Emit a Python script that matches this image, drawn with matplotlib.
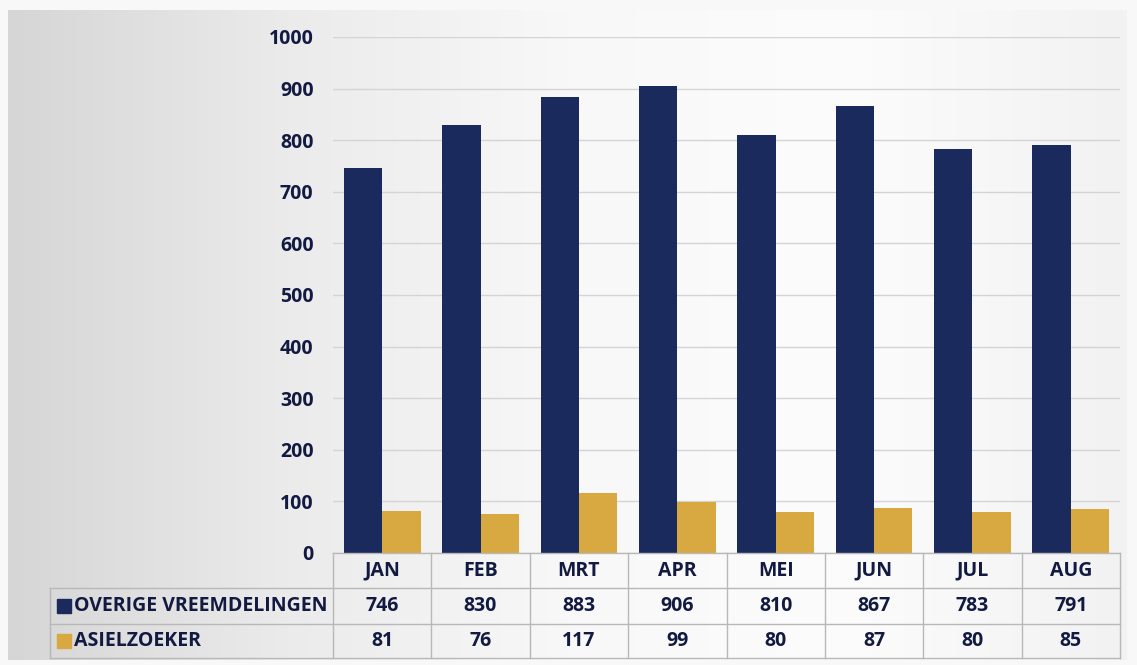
import numpy as np
import matplotlib
matplotlib.use("Agg")
import matplotlib.pyplot as plt
from matplotlib.patches import Rectangle

maanden = ["JAN", "FEB", "MRT", "APR", "MEI", "JUN", "JUL", "AUG"]
overige = [746, 830, 883, 906, 810, 867, 783, 791]
asiel = [81, 76, 117, 99, 80, 87, 80, 85]
reeksen = ["OVERIGE VREEMDELINGEN", "ASIELZOEKER"]
yticks = [0, 100, 200, 300, 400, 500, 600, 700, 800, 900, 1000]

NAVY = "#1b2a5c"
GOLD = "#d8a940"
TXT = "#121a42"
LIJN = "#b8b8b8"
FS = 14

plt.rcParams["font.family"] = ["Open Sans", "DejaVu Sans"]
plt.rcParams["font.weight"] = "bold"

W, H = 1137, 665
fig = plt.figure(figsize=(W / 100, H / 100), dpi=100)
fig.patch.set_facecolor("#f8f8f8")

# achtergrond met verloop (grijs links, wit rechts)
bg = fig.add_axes([8 / W, 1 - 660 / H, (1127 - 8) / W, (660 - 10) / H])
grad = np.linspace(0, 1, 256).reshape(1, -1)
cm = matplotlib.colors.LinearSegmentedColormap.from_list(
    "bg", ["#d6d6d6", "#ebebeb", "#f8f8f8", "#fcfcfc", "#f2f2f2"])
bg.imshow(grad, aspect="auto", cmap=cm, extent=[0, 1, 0, 1])
bg.axis("off")

# plot gebied
x0, x1 = 333, 1120
y0, y1 = 553, 37
ax = fig.add_axes([x0 / W, 1 - y0 / H, (x1 - x0) / W, (y0 - y1) / H])
ax.patch.set_alpha(0)
x = np.arange(len(maanden))
bw = 0.39
ax.bar(x - bw / 2, overige, bw, color=NAVY, zorder=3)
ax.bar(x + bw / 2, asiel, bw, color=GOLD, zorder=3)
ax.set_xlim(-0.5, len(maanden) - 0.5)
ax.set_ylim(0, 1000)
ax.set_yticks(yticks)
ax.set_yticklabels([str(t) for t in yticks], fontsize=FS, color=TXT, fontweight="bold")
ax.set_xticks([])
ax.tick_params(axis="y", length=0, pad=14)
ax.grid(axis="y", color="#d4d4d4", linewidth=1, zorder=0)
for s in ax.spines.values():
    s.set_visible(False)

# tabel onder de grafiek
tab = fig.add_axes([0, 0, 1, 1])
tab.set_xlim(0, W)
tab.set_ylim(H, 0)
tab.axis("off")
tab.patch.set_alpha(0)

cw = (x1 - x0) / len(maanden)
kol = [x0 + i * cw for i in range(len(maanden) + 1)]
rij = [553, 588, 624, 658]
links = 50

tab.plot([x0, x1], [rij[0], rij[0]], color=LIJN, lw=1)
for r in rij[1:]:
    tab.plot([links, x1], [r, r], color=LIJN, lw=1)
for k in kol:
    tab.plot([k, k], [rij[0], rij[-1]], color=LIJN, lw=1)
tab.plot([links, links], [rij[1], rij[-1]], color=LIJN, lw=1)

for i, m in enumerate(maanden):
    cx = (kol[i] + kol[i + 1]) / 2
    tab.text(cx, (rij[0] + rij[1]) / 2, m, ha="center", va="center",
             fontsize=FS, color=TXT, fontweight="bold")
    tab.text(cx, (rij[1] + rij[2]) / 2, str(overige[i]), ha="center", va="center",
             fontsize=FS, color=TXT, fontweight="bold")
    tab.text(cx, (rij[2] + rij[3]) / 2, str(asiel[i]), ha="center", va="center",
             fontsize=FS, color=TXT, fontweight="bold")

for j, (naam, kleur) in enumerate(zip(reeksen, [NAVY, GOLD])):
    cy = (rij[j + 1] + rij[j + 2]) / 2
    tab.add_patch(Rectangle((57, cy - 7), 14, 14, color=kleur))
    tab.text(74, cy, naam, ha="left", va="center", fontsize=FS,
             color=TXT, fontweight="bold")

fig.savefig("out.png", dpi=100)
